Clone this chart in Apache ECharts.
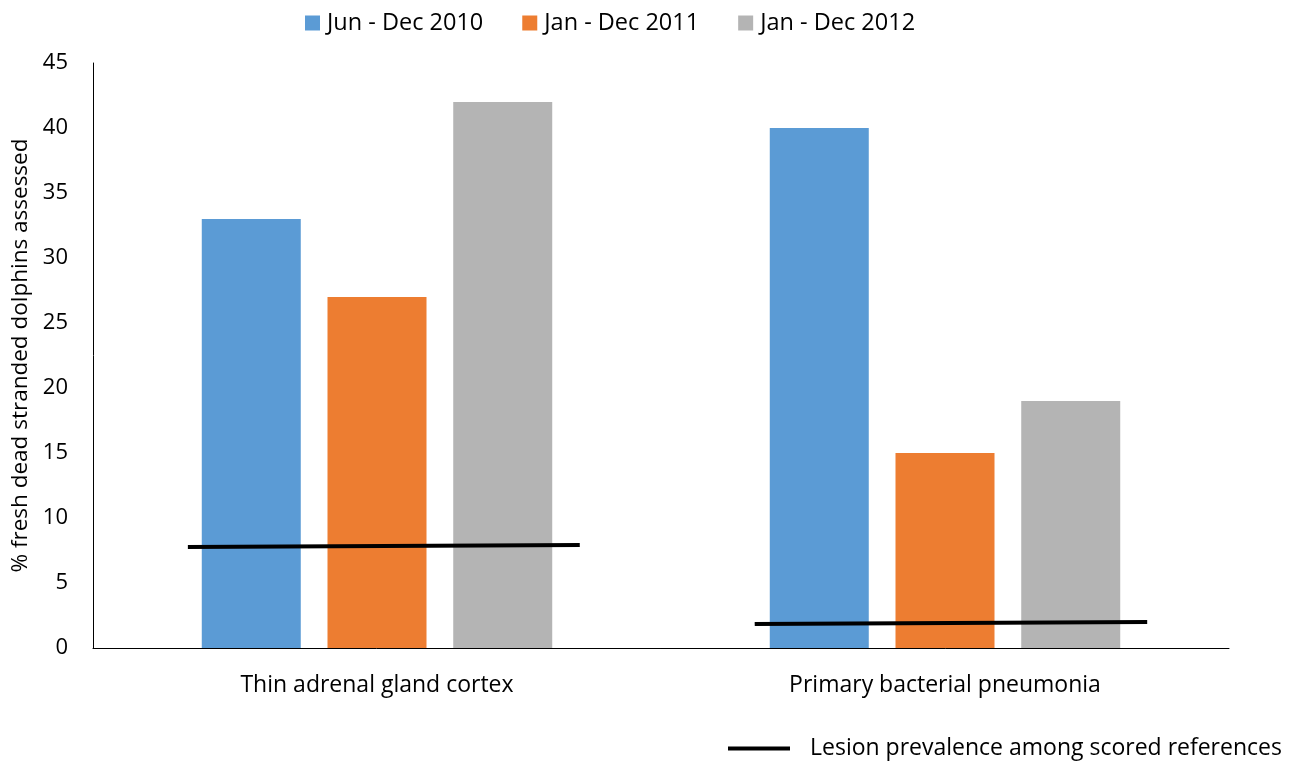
<!DOCTYPE html>
<html><head><meta charset="utf-8">
<script src="https://cdn.jsdelivr.net/npm/echarts@6/dist/echarts.min.js"></script>
<style>html,body{margin:0;padding:0;background:#fff}#c{width:1293px;height:762px}</style>
</head><body><div id="c"></div>
<script>
const categories = ['Thin adrenal gland cortex', 'Primary bacterial pneumonia'];
const seriesNames = ['Jun - Dec 2010', 'Jan - Dec 2011', 'Jan - Dec 2012'];
const values2010 = [33, 40];
const values2011 = [27, 15];
const values2012 = [42, 19];
const yTicks = [0, 45, 5];
const lineName = 'Lesion prevalence among scored references';
// reference lines: [x position in category units, value]
const refLine1 = [[0.167, 7.77], [0.857, 7.92]];
const refLine2 = [[1.165, 1.85], [1.856, 2.0]];

const colors = ['#5b9bd5', '#ed7d31', '#b4b4b4'];
const font = '"Open Sans", sans-serif';
const chart = echarts.init(document.getElementById('c'));
const barVals = [values2010, values2011, values2012];
chart.setOption({
  animation: false,
  textStyle: {fontFamily: font},
  grid: {left: 93, right: 64, top: 63, bottom: 114},
  legend: [{
    data: seriesNames, top: 11, left: 305, padding: 0,
    itemWidth: 15, itemHeight: 15, itemGap: 39, icon: 'rect',
    textStyle: {fontSize: 23.5, color: '#000', fontFamily: font, padding: [0,0,0,2]}
  }, {
    data: [lineName], top: 737, left: 728, padding: 0,
    itemWidth: 62, itemHeight: 4, icon: 'rect', itemGap: 10,
    textStyle: {fontSize: 23, color: '#000', fontFamily: font, padding: [0,0,0,15]}
  }],
  xAxis: [{
    type: 'category', data: categories,
    axisLine: {lineStyle: {color: '#000', width: 1}},
    axisTick: {show: false},
    axisLabel: {fontSize: 23, color: '#000', margin: 26, fontFamily: font}
  }, {
    type: 'value', min: 0, max: 2, show: false
  }],
  yAxis: {
    type: 'value', min: yTicks[0], max: yTicks[1], interval: yTicks[2],
    name: '% fresh dead stranded dolphins assessed',
    nameLocation: 'middle', nameGap: 60, nameRotate: 90,
    nameTextStyle: {fontSize: 22.5, color: '#000', fontFamily: font},
    axisLine: {show: true, lineStyle: {color: '#000', width: 1}},
    axisTick: {show: false},
    splitLine: {show: false},
    axisLabel: {fontSize: 22, color: '#000', margin: 25, fontFamily: font}
  },
  series: seriesNames.map((n, i) => ({
    name: n, type: 'bar', data: barVals[i], barWidth: 99, barGap: '27%',
    itemStyle: {color: colors[i]}
  })).concat([refLine1, refLine2].map(d => ({
    name: lineName, type: 'line', xAxisIndex: 1, data: d,
    symbol: 'none', lineStyle: {color: '#000', width: 4}, itemStyle: {color: '#000'}
  })))
});
</script></body></html>
